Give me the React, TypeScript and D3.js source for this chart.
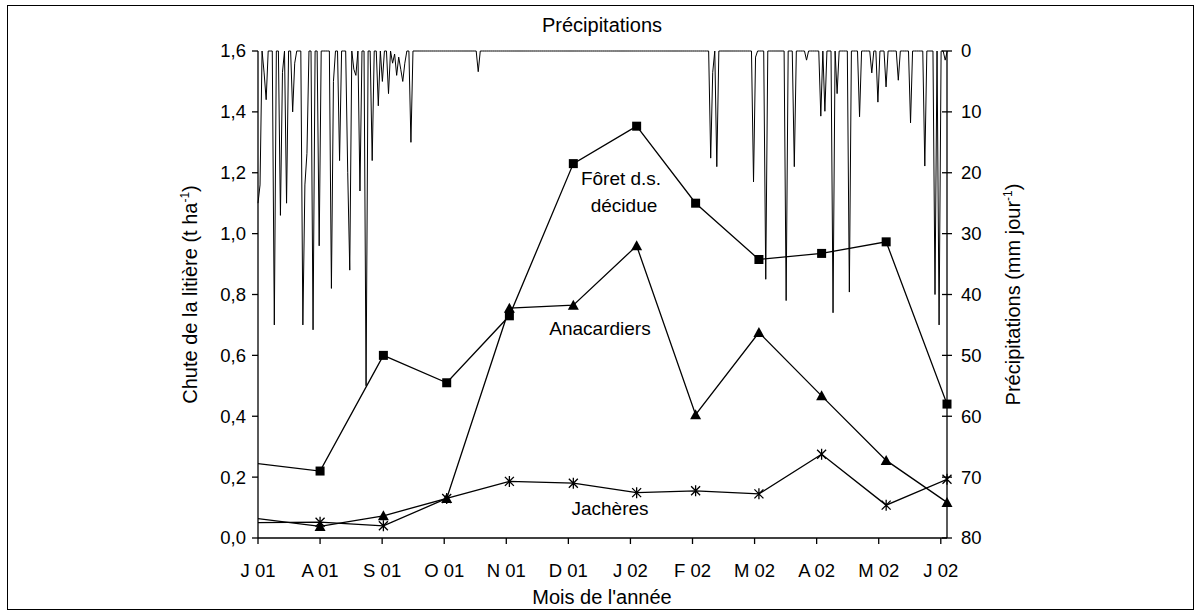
import * as d3 from 'd3'

// mois (axe des catégories)
const months = ['J 01', 'A 01', 'S 01', 'O 01', 'N 01', 'D 01', 'J 02', 'F 02', 'M 02', 'A 02', 'M 02', 'J 02']

// dates des relevés, en mois depuis J 01
const sampleMonths = [-0.3, 1.0, 2.02, 3.04, 4.05, 5.08, 6.1, 7.05, 8.07, 9.08, 10.12, 11.1]
const foret = [0.252, 0.22, 0.6, 0.51, 0.73, 1.23, 1.353, 1.1, 0.915, 0.935, 0.973, 0.44]
const anacardiers = [0.071, 0.038, 0.073, 0.13, 0.755, 0.765, 0.96, 0.405, 0.675, 0.467, 0.255, 0.117]
const jacheres = [0.05, 0.052, 0.04, 0.13, 0.186, 0.18, 0.149, 0.155, 0.145, 0.275, 0.108, 0.193]

// pluies journalières (jour depuis J 01, mm) ; les autres jours sont secs
const rainDay = [0, 1, 3, 4, 8, 11, 12, 14, 17, 18, 22, 23, 24, 27, 30, 36, 37, 40, 44, 45, 47, 48, 50, 53, 56, 59, 61, 64, 66, 67, 68, 69, 70, 71, 72, 75,
  108,
  222, 223, 225, 243, 244, 249, 259, 263, 269, 276, 278, 282, 284, 290, 295, 301, 304, 308, 314, 320, 327, 332, 334, 337]
const rainMm = [25, 22, 3.6, 8, 45, 27, 3.5, 25, 10, 2, 45, 22, 16.8, 45.8, 32, 39, 5, 18, 20, 36, 3, 4, 23, 55, 18, 9, 5, 7, 2, 0.5, 4, 1, 3, 5, 2, 15,
  3.4,
  17.6, 3.5, 19, 21.5, 1, 37.5, 41, 19, 1.5, 10.7, 9.9, 43, 7, 39.6, 10.8, 3.6, 8.4, 5.9, 4.8, 11.8, 18.9, 40, 45, 1.5]
const nDays = 339
const daysPerMonth = 30.44

const leftTicks = [0, 0.2, 0.4, 0.6, 0.8, 1.0, 1.2, 1.4, 1.6]
const rightTicks = [0, 10, 20, 30, 40, 50, 60, 70, 80]

const W = 1194
const H = 612
const plot = { left: 258, right: 947, top: 51, bottom: 538 }
const font = '"Liberation Sans", Arial, sans-serif'

export default function App() {
  const x = d3.scaleLinear().domain([0, 11.1]).range([plot.left, plot.right])
  const y = d3.scaleLinear().domain([0, 1.6]).range([plot.bottom, plot.top])
  const yRain = d3.scaleLinear().domain([0, 80]).range([plot.top, plot.bottom])

  const daily = new Array(nDays).fill(0)
  rainDay.forEach((d, i) => { daily[d] = rainMm[i] })

  const rainLine = d3.line<number>()
    .x((_, i) => x(i / daysPerMonth))
    .y(d => yRain(d))

  const litterLine = d3.line<number>()
    .x((_, i) => x(sampleMonths[i]))
    .y(d => y(d))

  const pts = (vals: number[]) => vals.map((v, i) => ({ cx: x(sampleMonths[i]), cy: y(v) }))
    .filter(p => p.cx >= plot.left - 1)

  const fmt = (v: number) => v.toFixed(1).replace('.', ',')

  return (
    <svg width={W} height={H} style={{ display: 'block', position: 'absolute', left: 0, top: 0, background: '#fff' }}
      fontFamily={font} fill="#000">
      <defs>
        <clipPath id="plotClip">
          <rect x={plot.left} y={plot.top - 2} width={plot.right - plot.left} height={plot.bottom - plot.top + 4} />
        </clipPath>
      </defs>
      {/* cadre */}
      <rect x={7.5} y={5.5} width={1186} height={604} fill="none" stroke="#000" strokeWidth={1} />

      {/* pluies */}
      <path d={rainLine(daily) || ''} fill="none" stroke="#000" strokeWidth={1} />

      {/* chute de litière */}
      <g clipPath="url(#plotClip)" fill="none" stroke="#000" strokeWidth={1.3}>
        <path d={litterLine(foret) || ''} />
        <path d={litterLine(anacardiers) || ''} />
        <path d={litterLine(jacheres) || ''} />
      </g>
      {pts(foret).map((p, i) => (
        <rect key={'f' + i} x={p.cx - 4.5} y={p.cy - 4.5} width={9} height={9} fill="#000" />
      ))}
      {pts(anacardiers).map((p, i) => (
        <path key={'a' + i} d={`M${p.cx},${p.cy - 5.5}L${p.cx + 5.5},${p.cy + 4.5}L${p.cx - 5.5},${p.cy + 4.5}Z`} fill="#000" />
      ))}
      {pts(jacheres).map((p, i) => (
        <path key={'j' + i}
          d={`M${p.cx - 4.5},${p.cy - 4.5}L${p.cx + 4.5},${p.cy + 4.5}M${p.cx - 4.5},${p.cy + 4.5}L${p.cx + 4.5},${p.cy - 4.5}M${p.cx},${p.cy - 5.5}L${p.cx},${p.cy + 5.5}`}
          stroke="#000" strokeWidth={1.3} fill="none" />
      ))}

      {/* axe gauche */}
      <line x1={plot.left} x2={plot.left} y1={plot.top} y2={plot.bottom} stroke="#000" strokeWidth={1.3} />
      {leftTicks.map(t => (
        <g key={'l' + t}>
          <line x1={plot.left - 6} x2={plot.left} y1={y(t)} y2={y(t)} stroke="#000" strokeWidth={1.3} />
          <text x={plot.left - 12} y={y(t)} dy="0.35em" textAnchor="end" fontSize={18.5}>{fmt(t)}</text>
        </g>
      ))}

      {/* axe droit */}
      <line x1={plot.right} x2={plot.right} y1={plot.top} y2={plot.bottom} stroke="#000" strokeWidth={1.3} />
      {rightTicks.map(t => (
        <g key={'r' + t}>
          <line x1={plot.right - 5} x2={plot.right + 5} y1={yRain(t)} y2={yRain(t)} stroke="#000" strokeWidth={1.3} />
          <text x={plot.right + 14} y={yRain(t)} dy="0.35em" textAnchor="start" fontSize={18.5}>{t}</text>
        </g>
      ))}

      {/* axe des x */}
      <line x1={plot.left} x2={plot.right} y1={plot.bottom} y2={plot.bottom} stroke="#000" strokeWidth={1.3} />
      {months.map((m, i) => (
        <g key={'m' + i}>
          <line x1={x(i)} x2={x(i)} y1={plot.bottom} y2={plot.bottom + 6} stroke="#000" strokeWidth={1.3} />
          <text x={x(i)} y={plot.bottom + 39} textAnchor="middle" fontSize={18.5}>{m}</text>
        </g>
      ))}

      {/* titres */}
      <text x={602} y={32} textAnchor="middle" fontSize={20}>Précipitations</text>
      <text x={602} y={604} textAnchor="middle" fontSize={20}>Mois de l'année</text>
      <text transform={`translate(197,${(plot.top + plot.bottom) / 2}) rotate(-90)`} textAnchor="middle" fontSize={20}>
        Chute de la litière (t ha<tspan fontSize={12} dy={-8}>-1</tspan><tspan dy={8}>)</tspan>
      </text>
      <text transform={`translate(1020,${(plot.top + plot.bottom) / 2}) rotate(-90)`} textAnchor="middle" fontSize={20}>
        Précipitations (mm jour<tspan fontSize={12} dy={-8}>-1</tspan><tspan dy={8}>)</tspan>
      </text>

      {/* étiquettes des séries */}
      <text x={621} y={185} textAnchor="middle" fontSize={19}>Fôret d.s.</text>
      <text x={624} y={212} textAnchor="middle" fontSize={19}>décidue</text>
      <text x={600} y={335} textAnchor="middle" fontSize={19}>Anacardiers</text>
      <text x={610} y={515} textAnchor="middle" fontSize={19}>Jachères</text>
    </svg>
  )
}
